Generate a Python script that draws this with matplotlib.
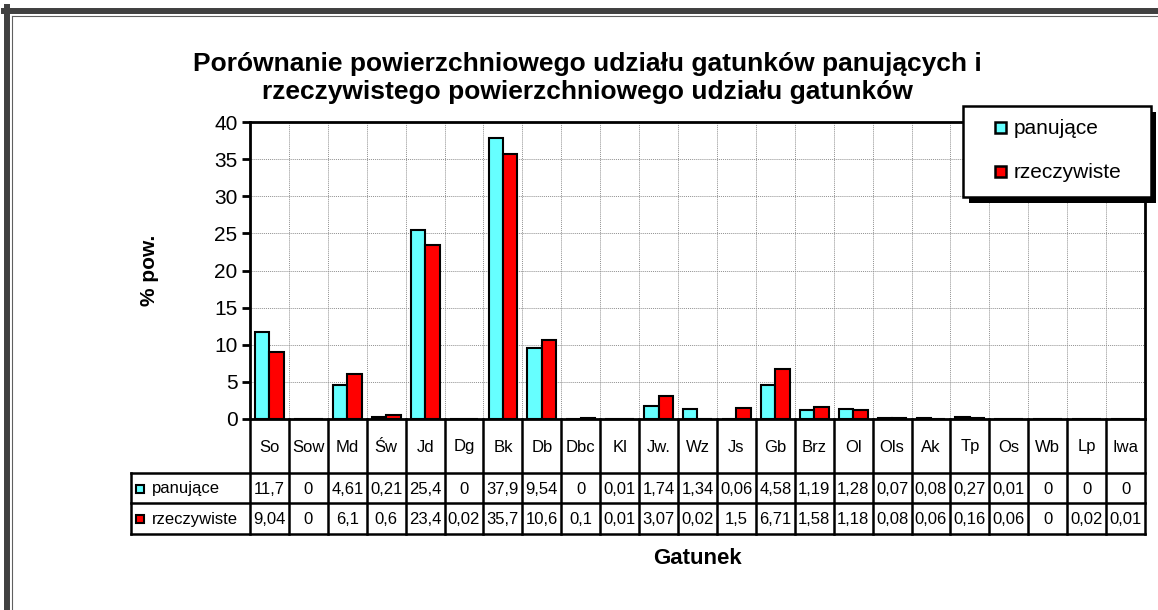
import matplotlib
matplotlib.use("Agg")
import matplotlib.pyplot as plt
import numpy as np
from matplotlib.patches import Rectangle
from matplotlib.lines import Line2D

plt.rcParams['font.family'] = ['Liberation Sans', 'DejaVu Sans']

categories = ['So', 'Sow', 'Md', 'Św', 'Jd', 'Dg', 'Bk', 'Db', 'Dbc', 'Kl', 'Jw.', 'Wz',
              'Js', 'Gb', 'Brz', 'Ol', 'Ols', 'Ak', 'Tp', 'Os', 'Wb', 'Lp', 'Iwa']
panujace = [11.7, 0, 4.61, 0.21, 25.4, 0, 37.9, 9.54, 0, 0.01, 1.74, 1.34,
            0.06, 4.58, 1.19, 1.28, 0.07, 0.08, 0.27, 0.01, 0, 0, 0]
rzeczywiste = [9.04, 0, 6.1, 0.6, 23.4, 0.02, 35.7, 10.6, 0.1, 0.01, 3.07, 0.02,
               1.5, 6.71, 1.58, 1.18, 0.08, 0.06, 0.16, 0.06, 0, 0.02, 0.01]
series_names = ['panujące', 'rzeczywiste']
colors = ['#66FFFF', '#FF0000']

W, H = 1158, 610
fig = plt.figure(figsize=(W / 100, H / 100), dpi=100)


def fx(px):
    return px / W


def fy(py):
    return 1 - py / H


# plot area
L, R, T, B = 250, 1145, 122, 419
ax = fig.add_axes([fx(L), fy(B), (R - L) / W, (B - T) / H])
n = len(categories)
x = np.arange(n)
bw = 0.37
ax.bar(x - bw / 2, panujace, bw, color=colors[0], edgecolor='black', linewidth=1.5, zorder=3)
ax.bar(x + bw / 2, rzeczywiste, bw, color=colors[1], edgecolor='black', linewidth=1.5, zorder=3)
ax.set_xlim(-0.5, n - 0.5)
ax.set_ylim(0, 40)
ax.set_yticks(range(0, 41, 5))
ax.set_xticks([])
ax.set_xticks(np.arange(0.5, n - 1, 1), minor=True)
ax.grid(axis='y', color='#909090', linestyle=(0, (1, 1)), linewidth=0.7, zorder=0)
ax.grid(axis='x', which='minor', color='#909090', linestyle=(0, (1, 1)), linewidth=0.7, zorder=0)
ax.tick_params(axis='x', which='both', length=0)
ax.tick_params(axis='y', direction='out', length=6, width=2, labelsize=15, pad=3)
for s in ax.spines.values():
    s.set_linewidth(2)
    s.set_color('black')
ax.set_ylabel('% pow.', fontsize=15, fontweight='bold', labelpad=40)

# data table
TL, TB = 131, 534
rows_y = [419, 473, 503, 534]
cw = (R - L) / n
x0 = -0.5 - (L - TL) / cw
tax = fig.add_axes([fx(TL), fy(TB), (R - TL) / W, (TB - B) / H])
tax.set_xlim(x0, n - 0.5)
tax.set_ylim(TB, B)
tax.axis('off')
lk = dict(color='black', linewidth=1.8, clip_on=False, solid_capstyle='projecting')
for k in range(n + 1):
    tax.plot([k - 0.5, k - 0.5], [rows_y[0], rows_y[3]], **lk)
for yy in rows_y[1:]:
    tax.plot([x0, n - 0.5], [yy, yy], **lk)
tax.plot([x0, x0], [rows_y[1], rows_y[3]], **lk)

for i, c in enumerate(categories):
    tax.text(i, (rows_y[0] + rows_y[1]) / 2 + 1, c, ha='center', va='center', fontsize=12)
for r, vals in enumerate([panujace, rzeczywiste]):
    yc = (rows_y[r + 1] + rows_y[r + 2]) / 2 + 1
    for i, v in enumerate(vals):
        tax.text(i, yc, f'{v:g}'.replace('.', ','), ha='center', va='center', fontsize=12)
    tax.add_patch(Rectangle((x0 + 5 / cw, yc - 4.5), 8 / cw, 8, facecolor=colors[r],
                            edgecolor='black', linewidth=1.5, clip_on=False))
    tax.text(x0 + 21 / cw, yc, series_names[r], ha='left', va='center', fontsize=12)

# title and axis title
fig.text(fx(587), fy(78), 'Porównanie powierzchniowego udziału gatunków panujących i\n'
         'rzeczywistego powierzchniowego udziału gatunków',
         ha='center', va='center', fontsize=19, fontweight='bold', linespacing=1.22)
fig.text(fx((L + R) / 2), fy(558), 'Gatunek', ha='center', va='center',
         fontsize=16, fontweight='bold')

# legend with shadow
fig.add_artist(Rectangle((fx(969), fy(203)), (1156 - 969) / W, (203 - 112) / H,
                         transform=fig.transFigure, facecolor='black', edgecolor='none', zorder=5))
fig.add_artist(Rectangle((fx(963), fy(197)), (1151 - 963) / W, (197 - 106) / H,
                         transform=fig.transFigure, facecolor='white', edgecolor='black',
                         linewidth=1.8, zorder=6))
for r, yc in enumerate([128, 172]):
    fig.add_artist(Rectangle((fx(995), fy(yc + 5.5)), 11 / W, 11 / H, transform=fig.transFigure,
                             facecolor=colors[r], edgecolor='black', linewidth=1.8, zorder=7))
    fig.text(fx(1014), fy(yc), series_names[r], ha='left', va='center', fontsize=15, zorder=8)

# chart frame (cut at right and bottom)
fig.add_artist(Line2D([fx(7), fx(7)], [0, fy(7)], transform=fig.transFigure,
                      color='#404040', linewidth=4.3, zorder=9))
fig.add_artist(Line2D([fx(4), 1], [fy(10.5), fy(10.5)], transform=fig.transFigure,
                      color='#404040', linewidth=4.3, zorder=9))
fig.add_artist(Line2D([fx(12), fx(12)], [0, fy(15.5)], transform=fig.transFigure,
                      color='#606060', linewidth=0.8, zorder=9))
fig.add_artist(Line2D([fx(12), 1], [fy(15.5), fy(15.5)], transform=fig.transFigure,
                      color='#606060', linewidth=0.8, zorder=9))

fig.savefig('out.png', dpi=100)
